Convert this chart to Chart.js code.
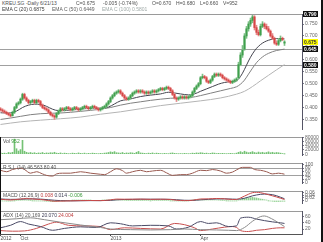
<!DOCTYPE html>
<html><head><meta charset="utf-8">
<script src="https://cdn.jsdelivr.net/npm/chart.js@4.4.0/dist/chart.umd.min.js"></script>
<style>
html,body{margin:0;padding:0;background:#fff;}
#wrap{position:relative;width:323px;height:242px;overflow:hidden;background:#fff;font-family:"Liberation Sans",Arial,sans-serif;}
#wrap canvas{position:absolute;left:0;}
.t{position:absolute;font-size:5px;line-height:5px;white-space:nowrap;color:#505050;}
.bd{position:absolute;background:#111;}
</style></head><body>
<div id="wrap">
<canvas id="cMain" width="321" height="133" style="top:9px"></canvas>
<canvas id="cVol" width="321" height="36" style="top:132px"></canvas>
<canvas id="cRsi" width="321" height="38" style="top:158px"></canvas>
<canvas id="cMacd" width="321" height="30" style="top:186px"></canvas>
<canvas id="cAdx" width="321" height="36" style="top:206px"></canvas>

<div class="t" style="left:2px;top:0.5px">KREU.SG -Daily 6/21/13</div>
<div class="t" style="left:76px;top:0.5px">C=0.675</div>
<div class="t" style="left:103px;top:0.5px">-0.005 (-0.74%)</div>
<div class="t" style="left:152px;top:0.5px">O=0.670</div>
<div class="t" style="left:176px;top:0.5px">H=0.680</div>
<div class="t" style="left:200px;top:0.5px">L=0.660</div>
<div class="t" style="left:223px;top:0.5px">V=952</div>
<div class="t" style="left:2px;top:6.5px;color:#404040">EMA C (20) 0.6875</div>
<div class="t" style="left:52px;top:6.5px;color:#606060">EMA C (50) 0.6449</div>
<div class="t" style="left:102px;top:6.5px;color:#a0aaa8">EMA C (100) 0.5801</div>

<div class="t" style="left:3px;top:138.5px">Vol <span style="color:#3a9a3a">952</span></div>
<div class="t" style="left:3px;top:164.5px">R.S.I. (14) 46.563 80 40</div>
<div class="t" style="left:3px;top:192.5px">MACD (12,26,9) <span style="color:#c04040">0.008</span> <span style="color:#404058">0.014</span> <span style="color:#3a9a3a">-0.006</span></div>
<div class="t" style="left:3px;top:212.5px">ADX (14) <span style="color:#606060">20.169</span> <span style="color:#404058">20.070</span> <span style="color:#c04040">24.004</span></div>

<div class="bd" style="left:321px;top:0;width:2px;height:242px"></div>
<div class="bd" style="left:0;top:137px;width:1px;height:97px"></div>
</div>
<script>
// ---------- data ----------
const opens=[.395,.390,.385,.380,.375,.370,.365,.380,.400,.415,
.420,.435,.455,.440,.430,.420,.425,.430,.420,.430,
.425,.410,.400,.395,.390,.380,.370,.365,.360,.375,
.385,.395,.390,.395,.400,.395,.390,.395,.400,.395,
.390,.395,.400,.405,.400,.395,.400,.405,.400,.395,
.390,.395,.400,.405,.415,.425,.440,.450,.460,.465,
.470,.460,.450,.440,.435,.440,.450,.460,.465,.470,
.465,.470,.465,.460,.465,.460,.465,.470,.465,.470,
.475,.480,.475,.480,.485,.480,.470,.455,.440,.435,
.440,.445,.440,.445,.440,.445,.450,.465,.480,.490,
.500,.525,.530,.525,.510,.505,.515,.530,.540,.535,
.540,.535,.525,.520,.515,.510,.505,.510,.515,.525,
.580,.620,.645,.700,.730,.750,.765,.780,.735,.715,
.705,.740,.750,.740,.730,.720,.700,.690,.670,.665,
.680,.690,.670];
const highs=[.400,.395,.390,.385,.380,.375,.385,.405,.420,.425,
.440,.460,.460,.445,.435,.430,.435,.435,.435,.435,
.430,.415,.405,.400,.395,.385,.375,.370,.380,.390,
.400,.400,.400,.405,.405,.400,.400,.405,.405,.400,
.400,.405,.410,.410,.405,.405,.410,.410,.405,.400,
.400,.405,.410,.420,.430,.445,.455,.465,.470,.475,
.475,.465,.455,.445,.445,.455,.465,.470,.475,.475,
.475,.475,.470,.470,.470,.470,.475,.475,.475,.480,
.485,.485,.485,.490,.490,.485,.475,.460,.445,.445,
.450,.450,.450,.450,.450,.455,.470,.485,.495,.505,
.530,.540,.535,.530,.515,.520,.535,.545,.545,.545,
.545,.540,.530,.525,.520,.515,.515,.520,.525,.590,
.630,.660,.710,.740,.760,.775,.795,.785,.745,.725,
.750,.760,.755,.750,.740,.725,.710,.695,.680,.690,
.700,.695,.680];
const lows=[.385,.380,.375,.370,.365,.360,.365,.375,.395,.410,
.415,.430,.435,.425,.415,.415,.420,.415,.415,.420,
.405,.395,.390,.385,.375,.365,.360,.350,.355,.370,
.380,.385,.385,.390,.390,.385,.385,.390,.390,.385,
.385,.390,.395,.395,.390,.390,.395,.395,.390,.385,
.385,.390,.395,.400,.410,.420,.435,.445,.455,.460,
.455,.445,.435,.430,.430,.435,.445,.455,.460,.460,
.460,.460,.455,.455,.455,.455,.460,.460,.460,.465,
.470,.470,.470,.475,.475,.465,.450,.435,.425,.430,
.435,.435,.435,.435,.435,.440,.445,.460,.475,.485,
.495,.520,.520,.505,.500,.500,.510,.525,.530,.530,
.530,.520,.515,.510,.505,.500,.500,.505,.510,.520,
.575,.610,.640,.690,.720,.740,.755,.725,.705,.700,
.700,.735,.730,.725,.715,.695,.685,.665,.660,.660,
.675,.680,.660];
const closes=[.390,.385,.380,.375,.370,.365,.380,.400,.415,.420,
.435,.455,.440,.430,.420,.425,.430,.420,.430,.425,
.410,.400,.395,.390,.380,.370,.365,.360,.375,.385,
.395,.390,.395,.400,.395,.390,.395,.400,.395,.390,
.395,.400,.405,.400,.395,.400,.405,.400,.395,.390,
.395,.400,.405,.415,.425,.440,.450,.460,.465,.470,
.460,.450,.440,.435,.440,.450,.460,.465,.470,.465,
.470,.465,.460,.465,.460,.465,.470,.465,.470,.475,
.480,.475,.480,.485,.480,.470,.455,.440,.435,.440,
.445,.440,.445,.440,.445,.450,.465,.480,.490,.500,
.525,.530,.525,.510,.505,.515,.530,.540,.535,.540,
.535,.525,.520,.515,.510,.505,.510,.515,.520,.580,
.620,.640,.700,.730,.750,.765,.780,.735,.715,.705,
.740,.750,.740,.730,.720,.700,.690,.670,.665,.680,
.690,.685,.675];
const volumes=[6000,4000,5000,3000,8000,6000,9000,72000,26000,15000,
22000,66000,14000,9000,6000,8000,5000,7000,4000,6000,
5000,8000,4000,6000,5000,7000,6000,9000,5000,4000,
6000,3000,5000,4000,2000,3000,5000,4000,3000,6000,
4000,3000,5000,2000,4000,3000,5000,4000,3000,2000,
4000,3000,5000,6000,8000,11000,9000,12000,7000,6000,
5000,8000,4000,6000,5000,7000,6000,4000,9000,13000,
6000,5000,4000,3000,5000,4000,6000,3000,5000,4000,
3000,2000,4000,3000,2000,5000,6000,4000,3000,2000,
3000,2000,4000,3000,2000,3000,5000,4000,6000,5000,
7000,6000,4000,5000,3000,4000,6000,5000,3000,4000,
3000,4000,3000,2000,3000,4000,3000,2000,5000,9000,
12000,8000,14000,10000,7000,9000,12000,8000,6000,10000,
7000,9000,6000,8000,11000,7000,9000,6000,8000,7000,
5000,3000,952];
const ema20Slots=[0,4,8,11,14,17,20,23,26,29,33,37,42,47,51,54,57,60,63,66,70,75,80,84,87,90,94,97,100,103,106,109,112,115,118,120,122,124,126,128,130,132,134,136,138,140,142];
const ema20Vals=[.378,.377,.385,.400,.410,.414,.413,.405,.393,.387,.388,.391,.395,.397,.397,.402,.415,.428,.433,.438,.446,.452,.457,.464,.461,.457,.453,.457,.468,.478,.488,.498,.505,.508,.512,.530,.560,.595,.625,.648,.664,.675,.682,.687,.689,.689,.6875];
const ema50Slots=[0,5,10,15,20,25,30,35,40,45,50,55,60,65,70,75,80,85,90,95,100,105,110,115,118,120,122,124,126,128,130,132,134,136,138,140,142];
const ema50Vals=[.350,.356,.363,.370,.374,.376,.377,.380,.384,.388,.393,.400,.410,.418,.424,.430,.435,.439,.440,.442,.450,.460,.470,.480,.487,.498,.515,.540,.565,.588,.605,.618,.627,.634,.639,.642,.6449];
const ema100Slots=[0,10,20,25,30,40,50,60,70,80,90,100,110,118,122,126,130,134,138,142];
const ema100Vals=[.329,.340,.347,.350,.353,.360,.372,.382,.395,.408,.418,.428,.440,.456,.468,.488,.512,.535,.558,.5801];
const rsiSlots=[0,3,6,10,12,15,18,21,23,26,28,31,35,40,45,50,52,55,58,61,63,66,70,73,76,80,83,86,90,93,96,100,103,106,110,113,116,118,121,125,127,130,133,136,139,142];
const rsiVals=[68,60,72,80,72,52,60,48,40,36,48,52,52,60,52,46,44,60,76,66,52,60,68,60,64,68,54,40,44,44,52,68,66,72,64,52,58,70,84,84,72,68,60,48,52,46.563];
const macdSlots=[0,5,10,13,16,20,24,27,30,35,40,45,50,55,58,62,66,70,75,80,85,88,92,96,100,104,108,112,116,118,120,122,124,126,128,130,132,134,136,138,140,142];
const macdVals=[.010,.004,.012,.015,.012,.008,.000,-.006,-.005,-.003,-.001,.000,-.001,.005,.011,.010,.010,.011,.009,.010,.008,.002,-.001,.002,.012,.013,.016,.013,.008,.008,.020,.035,.050,.062,.065,.062,.055,.046,.037,.028,.018,.008];
const signalVals=[.012,.009,.010,.012,.013,.011,.006,.002,-.001,-.003,-.002,-.001,-.001,.001,.005,.008,.009,.010,.010,.010,.009,.006,.002,.001,.005,.009,.012,.013,.011,.010,.012,.018,.027,.037,.044,.049,.051,.050,.046,.038,.026,.014];
const histVals=[-.002,-.003,-.004,-.005,-.005,-.005,-.003,-.001,.001,.002,
.002,.003,.003,.003,.002,.001,-.001,-.002,-.003,-.003,
-.003,-.004,-.005,-.006,-.006,-.007,-.008,-.008,-.006,-.005,
-.004,-.002,-.001,0,0,0,.001,.001,.001,.001,
.001,.001,.001,.001,.001,.001,0,0,0,0,
0,.001,.002,.003,.003,.004,.005,.006,.006,.005,
.004,.003,.002,.001,.001,.001,.001,.001,.001,.001,
.001,.001,0,0,0,-.001,0,0,0,0,
0,0,0,0,0,-.001,-.002,-.004,-.004,-.004,
-.003,-.003,-.003,-.002,-.001,0,.001,.002,.004,.006,
.007,.007,.006,.005,.004,.004,.004,.004,.004,.003,
.002,.001,0,-.001,-.002,-.003,-.003,-.003,-.002,.003,
.008,.012,.017,.020,.021,.023,.025,.022,.020,.016,
.012,.010,.006,.003,-.001,-.004,-.006,-.008,-.008,-.008,
-.007,-.006,-.006];
const adxSlots=[0,8,15,22,30,40,50,55,65,75,85,92,100,108,114,118,122,126,130,132,134,137,140,142];
const adxVals=[50,53,56,50,42,33,25,20,18,17,18,20,18,17,16,15,25,45,60,62,58,48,36,28];
const pdiSlots=[0,5,10,14,20,26,32,40,48,55,60,66,75,84,88,94,100,104,108,114,118,120,124,128,132,136,140,142];
const pdiVals=[24,32,44,36,28,16,22,27,25,40,37,30,32,30,20,26,44,38,40,28,30,55,58,52,47,43,40,38];
const mdiSlots=[0,6,12,18,24,28,34,42,50,55,62,70,80,87,92,97,100,106,112,116,118,120,124,128,132,136,140,142];
const mdiVals=[15,13,14,22,36,42,32,30,28,18,24,22,20,38,34,24,15,20,26,28,25,15,12,16,18,22,24,24];

const priceTicks=[0.35,0.40,0.45,0.50,0.55,0.60,0.65,0.70,0.75];
const volTicks=[0,20000,40000,60000,80000];
const rsiTicks=[0,20,40,60,80,100];
const rsiLevels=[80,40];
const macdTicks=[0,0.02,0.04,0.06];
const adxTicks=[20,40,60];
const xTickSlots=[0,10,55,100];
const xTickText=['2012','Oct','2013','Apr'];
const priceMarkers=[0.790,0.645,0.580];
const N_SLOTS=151;

// ---------- helpers ----------
Chart.defaults.font.family='"Liberation Sans", Arial, sans-serif';
Chart.defaults.font.size=5;
const UP='#3f9f4c', DOWN='#d64545';
const WICK_UP='#7cbf86', WICK_DOWN='#e58a8a';
const pairs=(xs,ys)=>xs.map((x,i)=>({x:x,y:ys[i]}));
const candleCol=(ctx)=>{const i=ctx.dataIndex;return closes[i]>=opens[i]?UP:DOWN;};
const wickCol=(ctx)=>{const i=ctx.dataIndex;return closes[i]>=opens[i]?WICK_UP:WICK_DOWN;};

const framePlugin={id:'frame',
  beforeDatasetsDraw(chart,args,o){
    const {ctx,chartArea:a,scales}=chart; const y=scales.y;
    ctx.save(); ctx.lineWidth=1; ctx.strokeStyle=o.lineColor||'#a0a0a0';
    (o.hlines||[]).forEach(v=>{const py=Math.round(y.getPixelForValue(v))+0.5;
      ctx.beginPath();ctx.moveTo(a.left,py);ctx.lineTo(a.right,py);ctx.stroke();});
    ctx.restore();
  },
  afterDatasetsDraw(chart,args,o){
    const {ctx,chartArea:a}=chart;
    ctx.save(); ctx.lineWidth=1; ctx.strokeStyle=o.frameColor||'#9a9a9a';
    if(o.top){ctx.beginPath();ctx.moveTo(a.left,a.top+0.5);ctx.lineTo(a.right,a.top+0.5);ctx.stroke();}
    if(o.bottom){ctx.beginPath();ctx.moveTo(a.left,a.bottom-0.5);ctx.lineTo(a.right,a.bottom-0.5);ctx.stroke();}
    ctx.restore();
  },
  afterDraw(chart,args,o){
    const {ctx,chartArea:a,scales}=chart; const y=scales.y;
    ctx.save(); ctx.font='bold 5px "Liberation Sans", Arial, sans-serif'; ctx.textBaseline='middle';
    (o.boxes||[]).forEach(b=>{const py=Math.round(y.getPixelForValue(b.v));
      ctx.fillStyle=b.bg; ctx.fillRect(a.right+1,py-3,15,6);
      ctx.fillStyle=b.fg; ctx.fillText(b.v.toFixed(3),a.right+2,py+0.5);});
    ctx.restore();
  }
};

function xScale(show){
  return {type:'linear',min:-0.25,max:N_SLOTS-0.25,offset:false,display:show,
    grid:{display:true,drawOnChartArea:false,tickLength:2,color:'#444'},
    border:{display:show,color:'#555',width:1},
    ticks:{autoSkip:false,maxRotation:0,minRotation:0,align:'start',padding:0,color:'#505050',font:{size:5},
      callback:(v)=>{const k=xTickSlots.indexOf(v);return k<0?'':xTickText[k];}},
    afterBuildTicks:(s)=>{s.ticks=xTickSlots.map(v=>({value:v}));},
    afterFit:(s)=>{s.height=8;}
  };
}
function yScale(min,max,ticks,fmt){
  return {position:'right',min:min,max:max,
    afterBuildTicks:(s)=>{s.ticks=ticks.map(v=>({value:v}));},
    afterFit:(s)=>{s.width=19;},
    ticks:{autoSkip:false,padding:1,color:'#666',font:{size:5},callback:(v)=>fmt(v)},
    grid:{drawOnChartArea:false,tickLength:2,color:'#778'},
    border:{display:true,color:'#556',width:1}
  };
}
function baseOpts(pad,xs,ys,frame){
  return {responsive:false,animation:false,devicePixelRatio:1,
    layout:{padding:pad},
    plugins:{legend:{display:false},tooltip:{enabled:false},frame:frame},
    scales:{x:xs,y:ys}};
}
const lineDs=(data,color,order)=>({type:'line',data:data,borderColor:color,borderWidth:1,pointRadius:0,
  cubicInterpolationMode:'monotone',fill:false,order:order});

// ---------- main price chart ----------
new Chart(document.getElementById('cMain'),{
  type:'bar',
  data:{datasets:[
    lineDs(pairs(ema100Slots,ema100Vals),'#b4b4b4',5),
    lineDs(pairs(ema50Slots,ema50Vals),'#808080',4),
    lineDs(pairs(ema20Slots,ema20Vals),'#44444e',3),
    {data:closes.map((c,i)=>({x:i,y:[lows[i],highs[i]]})),backgroundColor:wickCol,barThickness:1,grouped:false,order:2},
    {data:closes.map((c,i)=>({x:i,y:[opens[i],c]})),backgroundColor:candleCol,barThickness:1.4,grouped:false,minBarLength:1,order:1}
  ]},
  options:baseOpts({top:5,bottom:5,left:0,right:0},xScale(false),
    yScale(0.31,0.792,priceTicks,v=>v.toFixed(3)),
    {top:true,hlines:[priceMarkers[1],priceMarkers[2]],
     boxes:[{v:priceMarkers[0],bg:'#111',fg:'#fff'},{v:closes[closes.length-1],bg:'#ffff00',fg:'#333'},
            {v:priceMarkers[1],bg:'#111',fg:'#fff'},{v:priceMarkers[2],bg:'#111',fg:'#fff'}]}),
  plugins:[framePlugin]
});

// ---------- volume ----------
new Chart(document.getElementById('cVol'),{
  type:'bar',
  data:{datasets:[{data:volumes.map((v,i)=>({x:i,y:v})),backgroundColor:'#74c274',barThickness:1,grouped:false}]},
  options:baseOpts({top:5,bottom:5,left:0,right:0},xScale(false),
    yScale(-4000,82000,volTicks,v=>String(v)),{top:true}),
  plugins:[framePlugin]
});

// ---------- RSI ----------
new Chart(document.getElementById('cRsi'),{
  type:'line',
  data:{datasets:[lineDs(pairs(rsiSlots,rsiVals),'#9a5a50',1)]},
  options:baseOpts({top:5,bottom:5,left:0,right:0},xScale(false),
    yScale(-2,108,rsiTicks,v=>String(v)),{top:true,hlines:rsiLevels}),
  plugins:[framePlugin]
});

// ---------- MACD ----------
new Chart(document.getElementById('cMacd'),{
  type:'bar',
  data:{datasets:[
    {data:histVals.map((v,i)=>({x:i,y:v})),backgroundColor:'#8fd08f',barThickness:1,grouped:false,order:3},
    lineDs(pairs(macdSlots,signalVals),'#4a4a66',2),
    lineDs(pairs(macdSlots,macdVals),'#c84848',1)
  ]},
  options:baseOpts({top:5,bottom:5,left:0,right:0},xScale(false),
    yScale(-0.02,0.0755,macdTicks,v=>v===0?'0':v.toFixed(2)),{top:true}),
  plugins:[framePlugin]
});

// ---------- ADX ----------
new Chart(document.getElementById('cAdx'),{
  type:'line',
  data:{datasets:[
    lineDs(pairs(mdiSlots,mdiVals),'#c85050',3),
    lineDs(pairs(pdiSlots,pdiVals),'#4a4a66',2),
    lineDs(pairs(adxSlots,adxVals),'#8a8a8a',1)
  ]},
  options:baseOpts({top:5,bottom:0,left:0,right:0},xScale(true),
    yScale(4,78,adxTicks,v=>String(v)),{top:true}),
  plugins:[framePlugin]
});
</script>
</body></html>
